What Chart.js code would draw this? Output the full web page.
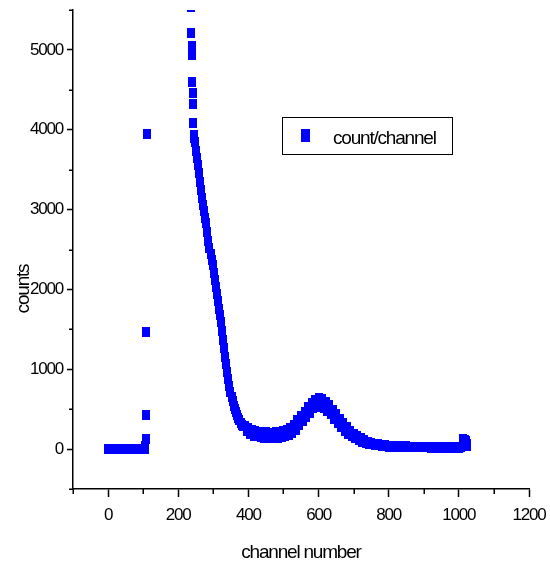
<!DOCTYPE html>
<html>
<head>
<meta charset="utf-8">
<title>count/channel</title>
<script src="https://cdn.jsdelivr.net/npm/chart.js"></script>
<style>
  html, body { margin: 0; padding: 0; background: #fff; }
  canvas { display: block; }
</style>
</head>
<body>
<canvas id="spectrum" width="550" height="570"></canvas>
<script>
// spectrum: counts per channel (points above 5500 fall outside the plot)
const channels = [
    0, 5, 10, 15, 20, 25, 30, 35, 40, 45, 50, 55, 60, 65, 70, 75, 80, 85, 90, 95, 100, 105,
    106, 107, 108, 109, 110,
    236, 237, 238, 239, 240, 241, 242, 243, 244, 245,
    247, 250, 253, 256, 259, 262, 265, 268, 271, 274,
    277, 280, 283, 286, 289, 292, 295, 298, 301, 304,
    307, 310, 313, 316, 319, 322, 325, 328, 331, 334,
    337, 340, 343, 346, 349, 352, 355, 358, 361, 364,
    367, 370, 374, 378, 382, 386, 390, 395, 400, 405,
    410, 415, 420, 425, 430, 435, 440, 445, 450, 455,
    460, 465, 470, 475, 480, 485, 490, 495, 500, 505,
    510, 515, 520, 525, 530, 535, 540, 545, 550, 555,
    560, 565, 570, 575, 580, 585, 590, 595, 600, 605,
    610, 615, 620, 625, 630, 635, 640, 645, 650, 655,
    660, 665, 670, 675, 680, 685, 690, 695, 700, 705,
    710, 715, 720, 725, 730, 735, 740, 745, 750,
    760, 770, 780, 790, 800, 810, 820, 830, 840, 850,
    860, 870, 880, 890, 900, 910, 920, 930, 940, 950,
    960, 970, 980, 990, 1000, 1005,
    1011, 1013, 1015, 1017, 1019, 1021, 1022, 1023
];
const counts = [
    0, 0, 0, 0, 0, 0, 0, 0, 0, 0, 0, 0, 0, 0, 0, 0, 0, 0, 0, 0, 0, 0,
    40, 130, 433, 1461, 3950,
    5540, 5208, 5052, 4936, 4600, 4462, 4325, 4087, 3938, 3900,
    3850, 3740, 3650, 3560, 3460, 3350, 3250, 3150, 3060, 2980,
    2900, 2826, 2720, 2610, 2520, 2440, 2370, 2300, 2210, 2120,
    2030, 1940, 1860, 1760, 1680, 1590, 1480, 1370, 1260, 1150,
    1060, 970, 880, 790, 715, 650, 600, 545, 500, 460,
    425, 395, 360, 330, 305, 285, 290, 225, 270, 195,
    245, 170, 230, 158, 220, 148, 212, 142, 208, 138,
    205, 137, 206, 140, 210, 143, 214, 150, 222, 160,
    235, 175, 260, 198, 300, 240, 360, 300, 418, 352,
    470, 405, 525, 458, 582, 510, 620, 530, 635, 532,
    625, 515, 590, 480, 550, 437, 495, 383, 438, 330,
    380, 278, 325, 232, 275, 192, 232, 162, 195, 136,
    163, 110, 133, 92, 112, 77, 94, 64, 80,
    52, 62, 40, 50, 32, 42, 28, 38, 24, 34,
    23, 32, 21, 30, 20, 29, 19, 28, 18, 27,
    17, 27, 16, 26, 16, 25,
    120, 122, 118, 112, 105, 85, 60, 40
];

const xTicks = [0, 200, 400, 600, 800, 1000, 1200];
const xMinorTicks = [-100, 100, 300, 500, 700, 900, 1100];
const yTicks = [0, 1000, 2000, 3000, 4000, 5000];
const yMinorTicks = [-500, 500, 1500, 2500, 3500, 4500, 5500];

const FONT = 'Liberation Sans, Arial, sans-serif';
const BLUE = '#0000ff';

function rectMarker(w, h) {
    const c = document.createElement('canvas');
    c.width = w;
    c.height = h;
    const g = c.getContext('2d');
    g.fillStyle = BLUE;
    g.fillRect(0, 0, w, h);
    return c;
}

const pointMarker = rectMarker(8, 10);
const legendMarker = rectMarker(9, 13);

// fixed axis sizes, and no extra room for overhanging tick labels
function fixScale(size) {
    return s => {
        if (s.isHorizontal()) s.height = size; else s.width = size;
        s.paddingLeft = s.paddingRight = s.paddingTop = s.paddingBottom = 0;
    };
}

// the text in this plot is set quite tight
const tightText = {
    id: 'tightText',
    beforeUpdate(chart) { chart.ctx.letterSpacing = '-1.2px'; },
    beforeDraw(chart) { chart.ctx.letterSpacing = '-1.2px'; }
};

// short ticks between the labelled ones
const minorTicks = {
    id: 'minorTicks',
    afterDraw(chart) {
        const { ctx, scales: { x, y } } = chart;
        ctx.save();
        ctx.strokeStyle = '#000';
        ctx.lineWidth = 1.5;
        ctx.beginPath();
        xMinorTicks.forEach(v => {
            const px = Math.round(x.getPixelForValue(v)) + 0.25;
            ctx.moveTo(px, x.top);
            ctx.lineTo(px, x.top + 5);
        });
        yMinorTicks.forEach(v => {
            const py = Math.round(y.getPixelForValue(v)) + 0.25;
            ctx.moveTo(y.right, py);
            ctx.lineTo(y.right - 4, py);
        });
        ctx.stroke();
        ctx.restore();
    }
};

// y title and the boxed legend inside the plot
const labels = {
    id: 'labels',
    afterDraw(chart) {
        const ctx = chart.ctx;
        ctx.save();
        ctx.fillStyle = '#000';
        ctx.font = '19px ' + FONT;

        ctx.save();
        ctx.translate(29, 289);
        ctx.rotate(-Math.PI / 2);
        ctx.textAlign = 'center';
        ctx.textBaseline = 'alphabetic';
        ctx.fillText('counts', 0, 0);
        ctx.restore();

        ctx.strokeStyle = '#000';
        ctx.lineWidth = 1;
        ctx.strokeRect(282.5, 117.5, 170, 37);
        ctx.drawImage(legendMarker, 301, 129);
        ctx.textAlign = 'left';
        ctx.textBaseline = 'alphabetic';
        ctx.fillText(chart.data.datasets[0].label, 333, 144);
        ctx.restore();
    }
};

Chart.defaults.font.family = FONT;
Chart.defaults.color = '#000';

const ctx = document.getElementById('spectrum').getContext('2d');
const spectrumChart = new Chart(ctx, {
    type: 'scatter',
    data: {
        datasets: [{
            label: 'count/channel',
            data: channels.map((ch, i) => ({ x: ch, y: counts[i] })),
            pointStyle: pointMarker,
            pointRadius: 5,
            showLine: false,
            clip: 0
        }]
    },
    options: {
        responsive: false,
        animation: false,
        devicePixelRatio: 1,
        events: [],
        layout: { padding: { top: 10, right: 21, left: 0, bottom: 0 } },
        plugins: {
            legend: { display: false },
            tooltip: { enabled: false }
        },
        scales: {
            x: {
                type: 'linear',
                min: -100,
                max: 1200,
                afterBuildTicks: s => { s.ticks = xTicks.map(v => ({ value: v })); },
                afterFit: fixScale(81),
                ticks: {
                    font: { size: 17 },
                    padding: 8,
                    autoSkip: false,
                    maxRotation: 0,
                    callback: v => String(v)
                },
                grid: {
                    drawOnChartArea: false,
                    tickLength: 8,
                    tickWidth: 1.5,
                    tickColor: '#000'
                },
                border: { color: '#000', width: 1.5 },
                title: {
                    display: true,
                    text: 'channel number',
                    font: { size: 19 },
                    padding: { top: 0, bottom: 6 }
                }
            },
            y: {
                type: 'linear',
                min: -500,
                max: 5500,
                afterBuildTicks: s => { s.ticks = yTicks.map(v => ({ value: v })); },
                afterFit: fixScale(73),
                ticks: {
                    font: { size: 17 },
                    padding: 4,
                    callback: v => String(v)
                },
                grid: {
                    drawOnChartArea: false,
                    tickLength: 6,
                    tickWidth: 1.5,
                    tickColor: '#000'
                },
                border: { color: '#000', width: 1.5 }
            }
        }
    },
    plugins: [tightText, minorTicks, labels]
});
</script>
</body>
</html>
